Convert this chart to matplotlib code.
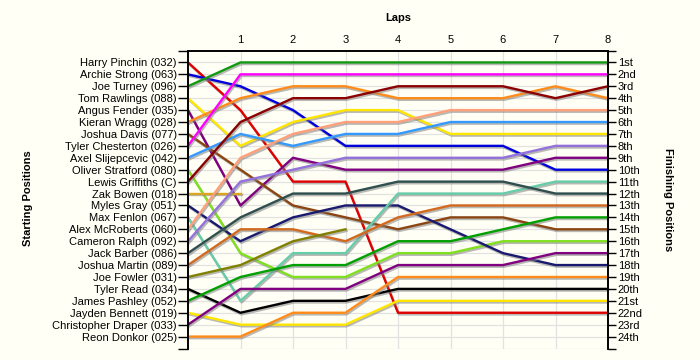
import matplotlib
matplotlib.use('Agg')
import matplotlib.pyplot as plt
import matplotlib.patheffects as pe

plt.rcParams['font.family'] = ['Liberation Sans', 'DejaVu Sans']

# laps 0..8, lap 0 = grid
laps = list(range(9))

drivers = [
    'Harry Pinchin (032)', 'Archie Strong (063)', 'Joe Turney (096)',
    'Tom Rawlings (088)', 'Angus Fender (035)', 'Kieran Wragg (028)',
    'Joshua Davis (077)', 'Tyler Chesterton (026)', 'Axel Slijepcevic (042)',
    'Oliver Stratford (080)', 'Lewis Griffiths (C)', 'Zak Bowen (018)',
    'Myles Gray (051)', 'Max Fenlon (067)', 'Alex McRoberts (060)',
    'Cameron Ralph (092)', 'Jack Barber (086)', 'Joshua Martin (089)',
    'Joe Fowler (031)', 'Tyler Read (034)', 'James Pashley (052)',
    'Jayden Bennett (019)', 'Christopher Draper (033)', 'Reon Donkor (025)',
]

finish_labels = ['1st', '2nd', '3rd', '4th', '5th', '6th', '7th', '8th',
                 '9th', '10th', '11th', '12th', '13th', '14th', '15th', '16th',
                 '17th', '18th', '19th', '20th', '21st', '22nd', '23rd', '24th']

# position per lap for each driver (in starting order); short list = retired
positions = [
    [1, 5, 11, 11, 22, 22, 22, 22, 22],
    [2, 3, 5, 8, 8, 8, 8, 10, 10],
    [3, 1, 1, 1, 1, 1, 1, 1, 1],
    [4, 8, 6, 5, 5, 7, 7, 7, 7],
    [5, 13, 9, 10, 10, 10, 10, 9, 9],
    [6, 4, 3, 3, 4, 4, 4, 3, 4],
    [7, 10, 13, 14, 15, 14, 14, 15, 15],
    [8, 2, 2, 2, 2, 2, 2, 2, 2],
    [9, 7, 8, 7, 7, 6, 6, 6, 6],
    [10, 17, 19, 19, 17, 17, 16, 16, 16],
    [11, 6, 4, 4, 3, 3, 3, 4, 3],
    [12, 12],
    [13, 16, 14, 13, 13, 15, 17, 18, 18],
    [14, 21, 17, 17, 12, 12, 12, 11, 11],
    [15, 9, 7, 6, 6, 5, 5, 5, 5],
    [16, 11, 10, 9, 9, 9, 9, 8, 8],
    [17, 14, 12, 12, 11, 11, 11, 12, 12],
    [18, 15, 15, 16, 14, 13, 13, 13, 13],
    [19, 18, 16, 15],
    [20, 22, 21, 21, 20, 20, 20, 20, 20],
    [21, 19, 18, 18, 16, 16, 15, 14, 14],
    [22, 23, 23, 23, 21, 21, 21, 21, 21],
    [23, 20, 20, 20, 18, 18, 18, 17, 17],
    [24, 24, 22, 22, 19, 19, 19, 19, 19],
]

colors = ['#E00000', '#0000DD', '#139A13', '#FFE600', '#800080', '#FF8C1A',
          '#8B4513', '#FF00FF', '#3399FF', '#80E020', '#8B0000', '#DAA520',
          '#191970', '#66CDAA', '#FFA07A', '#9370DB', '#2F4F4F', '#D2691E',
          '#808000', '#000000', '#00A000', '#FFE600', '#800080', '#FF8C1A']

bg = '#FFFFF5'
fig = plt.figure(figsize=(7, 3.6), dpi=100, facecolor=bg)
ax = fig.add_axes([188 / 700, 1 - 348.5 / 360, 420 / 700, 298 / 360])
ax.set_facecolor(bg)

# grid
for x in range(1, 9):
    ax.axvline(x, color='#E2E2E2', lw=0.9, zorder=0)
for y in range(1, 26):
    ax.axhline(y, color='#E2E2E2', lw=0.9, zorder=0)

shadow = [pe.SimpleLineShadow(offset=(0.8, -1.2), shadow_color='#808080', alpha=0.55), pe.Normal()]
for pos, col in zip(positions, colors):
    ax.plot(laps[:len(pos)], pos, color=col, lw=1.7, path_effects=shadow, zorder=2)

ax.set_xlim(0, 8)
ax.set_ylim(25, 0)

ax.xaxis.tick_top()
ax.set_xticks(range(1, 9))
ax.tick_params(axis='x', length=0, pad=4, labelsize=8)

ax.set_yticks(range(0, 26))
ax.set_yticklabels([''] + drivers + [''], fontsize=8)
ax.tick_params(axis='y', direction='out', length=7, width=1, pad=1)

ax2 = ax.twinx()
ax2.set_ylim(25, 0)
ax2.set_yticks(range(0, 26))
ax2.set_yticklabels([''] + finish_labels + [''], fontsize=8)
ax2.tick_params(axis='y', direction='out', length=6, width=1, pad=1)

for a in (ax, ax2):
    a.spines['bottom'].set_visible(False)
    for s in ('left', 'right', 'top'):
        a.spines[s].set_linewidth(1.2)

fig.text(398 / 700, 1 - 18 / 360, 'Laps', ha='center', va='center',
         fontweight='bold', fontsize=8)
fig.text(28 / 700, 1 - 198 / 360, 'Starting Positions', ha='center', va='center',
         rotation=90, fontweight='bold', fontsize=8)
fig.text(668 / 700, 1 - 200 / 360, 'Finishing Positions', ha='center', va='center',
         rotation=270, fontweight='bold', fontsize=8)

fig.savefig('out.png', dpi=100, facecolor=bg)
